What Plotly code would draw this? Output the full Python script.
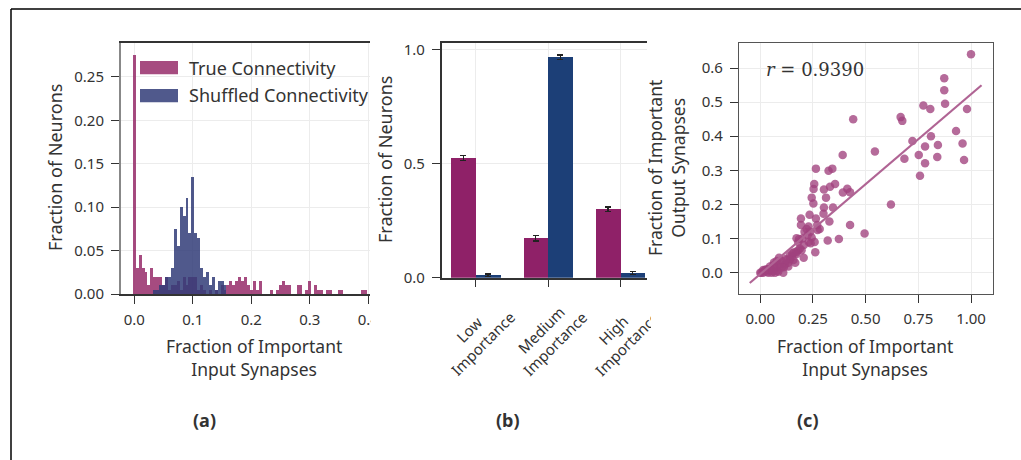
import plotly.graph_objects as go

W, H = 1021, 460
FONT = "Noto Sans"
TXT = "#333333"

# ---------------- data ----------------
bin_width = 0.005
true_frac = [0.275, 0.030, 0.045, 0.030, 0.025, 0.010, 0.030, 0.020, 0.020, 0.020,
             0.010, 0.020, 0.005, 0.010, 0.010, 0.015, 0.005, 0.020, 0.010, 0.020,
             0.020, 0.020, 0.005, 0.010, 0.005, 0.000, 0.005, 0.000, 0.005, 0.000,
             0.010, 0.005, 0.010, 0.015, 0.010, 0.015, 0.020, 0.015, 0.020, 0.010,
             0.005, 0.015, 0.005, 0.015, 0.000, 0.000, 0.000, 0.005, 0.000, 0.005,
             0.010, 0.015, 0.010, 0.010, 0.000, 0.000, 0.010, 0.010, 0.000, 0.005,
             0.015, 0.000, 0.010, 0.005, 0.005, 0.000, 0.005, 0.005, 0.000, 0.000,
             0.005, 0.005, 0.000, 0.000, 0.000, 0.000, 0.000, 0.000, 0.005, 0.005]
shuffled_frac = [0.000, 0.000, 0.000, 0.000, 0.000, 0.000, 0.000, 0.005, 0.005, 0.010,
                 0.010, 0.020, 0.020, 0.030, 0.075, 0.055, 0.100, 0.090, 0.110, 0.070,
                 0.135, 0.070, 0.065, 0.030, 0.020, 0.025, 0.010, 0.020, 0.005, 0.015,
                 0.015, 0.010]
true_bins = [i * bin_width for i in range(len(true_frac))]
shuffled_bins = [i * bin_width for i in range(len(shuffled_frac))]

categories = ["Low<br>Importance", "Medium<br>Importance", "High<br>Importance"]
true_cat = [0.525, 0.173, 0.300]
true_cat_err = [0.010, 0.012, 0.010]
shuf_cat = [0.010, 0.968, 0.020]
shuf_cat_err = [0.006, 0.010, 0.006]

x_in = [1.0, 0.873, 0.873, 0.877, 0.774, 0.807, 0.981, 0.666, 0.674, 0.441,
        0.929, 0.810, 0.722, 0.960, 0.843, 0.782, 0.752, 0.684, 0.840, 0.967,
        0.782, 0.758, 0.544, 0.391, 0.620, 0.495, 0.426, 0.373, 0.320, 0.261,
        0.264, 0.342, 0.324, 0.256, 0.355, 0.331, 0.253, 0.302, 0.413, 0.392,
        0.426, 0.244, 0.312, 0.252, 0.302, 0.345, 0.300, 0.234, 0.193, 0.264,
        0.328, 0.193, 0.229, 0.220, 0.272, 0.282, 0.237, 0.225, 0.244, 0.172,
        0.184, 0.258, 0.239, 0.188, 0.180, 0.196, 0.169, 0.206, 0.152, 0.166,
        0.141, 0.133, 0.117, 0.133, 0.089, 0.078, 0.101, 0.109, 0.062, 0.070,
        0.046, 0.030, 0.014, 0.000, 0.014, 0.038, 0.054, 0.070, 0.085, 0.093,
        0.078, 0.030, 0.022, 0.046, 0.112, 0.157, 0.172, 0.149, 0.125, 0.207,
        0.005, 0.020, 0.040, 0.060, 0.065, 0.090, 0.100, 0.120, 0.140, 0.160,
        0.180, 0.200, 0.210, 0.230, 0.270]
y_out = [0.640, 0.570, 0.535, 0.495, 0.490, 0.480, 0.480, 0.456, 0.445, 0.450,
         0.415, 0.400, 0.386, 0.379, 0.374, 0.370, 0.345, 0.334, 0.339, 0.330,
         0.321, 0.284, 0.355, 0.345, 0.200, 0.115, 0.140, 0.099, 0.094, 0.060,
         0.305, 0.305, 0.299, 0.260, 0.260, 0.252, 0.245, 0.244, 0.246, 0.235,
         0.236, 0.220, 0.220, 0.203, 0.191, 0.191, 0.173, 0.170, 0.159, 0.159,
         0.150, 0.140, 0.135, 0.128, 0.125, 0.128, 0.120, 0.110, 0.103, 0.101,
         0.099, 0.090, 0.086, 0.071, 0.066, 0.066, 0.059, 0.044, 0.057, 0.029,
         0.039, 0.029, 0.024, 0.018, 0.044, 0.034, 0.034, 0.000, 0.022, 0.013,
         0.018, 0.010, 0.008, 0.000, 0.000, 0.000, 0.000, 0.000, 0.003, 0.018,
         0.006, 0.003, 0.008, 0.008, 0.016, 0.037, 0.055, 0.047, 0.037, 0.081,
         0.000, 0.005, 0.010, 0.005, 0.030, 0.025, 0.015, 0.040, 0.050, 0.060,
         0.090, 0.100, 0.120, 0.090, 0.140]
fit_slope = 0.527
fit_intercept = -0.004
fit_x = [-0.05, 1.05]
r_value = 0.9390

# ---------------- style ----------------
PINK_A = "rgba(150,44,106,0.85)"
BLUE_A = "rgba(49,60,120,0.85)"
PINK = "#8f2168"
BLUE = "#1c3f77"
DOT = "rgba(160,65,125,0.78)"
LINE = "#b06494"


def px(x):
    return x / W


def py(y):
    return 1 - y / H


fig = go.Figure()

# panel (a)
fig.add_trace(go.Bar(x=true_bins, y=true_frac, width=bin_width, marker_color=PINK_A,
                     marker_line_width=0, xaxis="x", yaxis="y", showlegend=False))
fig.add_trace(go.Bar(x=shuffled_bins, y=shuffled_frac, width=bin_width, marker_color=BLUE_A,
                     marker_line_width=0, xaxis="x", yaxis="y", showlegend=False))

# panel (b)
bw = 0.34
fig.add_trace(go.Bar(x=categories, y=true_cat, width=bw, offset=-bw, marker_color=PINK,
                     marker_line_width=0,
                     error_y=dict(type="data", array=true_cat_err, color="#222", thickness=1.3, width=3),
                     xaxis="x2", yaxis="y2", showlegend=False))
fig.add_trace(go.Bar(x=categories, y=shuf_cat, width=bw, offset=0, marker_color=BLUE,
                     marker_line_width=0,
                     error_y=dict(type="data", array=shuf_cat_err, color="#222", thickness=1.3, width=3),
                     xaxis="x2", yaxis="y2", showlegend=False))

# panel (c)
fig.add_trace(go.Scatter(x=x_in, y=y_out, mode="markers",
                         marker=dict(size=8.5, color=DOT, line_width=0),
                         xaxis="x3", yaxis="y3", showlegend=False))
fig.add_trace(go.Scatter(x=fit_x, y=[fit_slope * v + fit_intercept for v in fit_x], mode="lines",
                         line=dict(color=LINE, width=2.2),
                         xaxis="x3", yaxis="y3", showlegend=False))

tickfont = dict(family=FONT, size=15, color=TXT)
grid = "#ececec"
common = dict(tickfont=tickfont, gridcolor=grid, gridwidth=1, showgrid=True, zeroline=False,
              ticks="outside", ticklen=8, tickwidth=1.2, tickcolor="#333", automargin=False)

fig.update_layout(
    template="none",
    width=W, height=H, autosize=False,
    margin=dict(l=0, r=0, t=0, b=0, pad=0),
    paper_bgcolor="white", plot_bgcolor="white",
    barmode="overlay", bargap=0,
    font=dict(family=FONT, color=TXT),
    xaxis=dict(domain=[px(121), px(370)], range=[-0.0228, 0.403],
               tickvals=[0, 0.1, 0.2, 0.3, 0.4], tickformat=".1f", ticklabelstandoff=3,
               showline=True, linecolor="#333", linewidth=1.5, mirror=True,
               anchor="y", **common),
    yaxis=dict(domain=[py(294), py(43)], range=[0, 0.289],
               tickvals=[0, 0.05, 0.10, 0.15, 0.20, 0.25], tickformat=".2f", ticklabelstandoff=4,
               showline=True, linecolor="#888", linewidth=2,
               anchor="x", **common),
    xaxis2=dict(domain=[px(441.7), px(646.7)], range=[-0.47, 2.365],
                type="category", showticklabels=False,
                showline=True, linecolor="#333", linewidth=1.5, mirror=True,
                anchor="y2", **common),
    yaxis2=dict(domain=[py(277.7), py(43)], range=[0, 1.03],
                tickvals=[0, 0.5, 1.0], tickformat=".1f", ticklabelstandoff=4,
                showline=True, linecolor="#333", linewidth=1.5,
                anchor="x2", **common),
    xaxis3=dict(domain=[px(739), px(992.7)], range=[-0.101, 1.103],
                tickvals=[0, 0.25, 0.5, 0.75, 1.0], tickformat=".2f", ticklabelstandoff=3,
                showline=True, linecolor="#555", linewidth=1.2, mirror=True,
                anchor="y3", **common),
    yaxis3=dict(domain=[py(294.3), py(43.3)], range=[-0.0634, 0.6724],
                tickvals=[0, 0.1, 0.2, 0.3, 0.4, 0.5, 0.6], tickformat=".1f", ticklabelstandoff=4,
                showline=True, linecolor="#555", linewidth=1.2, mirror=True,
                anchor="x3", **common),
)

shapes = []
# clipping mask (the last tick label of panel (a) is cut at the subplot boundary in the reference)
shapes.append(dict(type="rect", xref="paper", yref="paper", x0=px(370.5), x1=px(386),
                   y0=py(335), y1=py(303), fillcolor="white", line_width=0, layer="above"))
# legend swatches for panel (a)
shapes.append(dict(type="rect", xref="paper", yref="paper", x0=px(140), x1=px(178),
                   y0=py(74.3), y1=py(61), fillcolor="rgb(166,76,128)", line_width=0, layer="above"))
shapes.append(dict(type="rect", xref="paper", yref="paper", x0=px(140), x1=px(178),
                   y0=py(102.3), y1=py(89), fillcolor="rgb(80,89,140)", line_width=0, layer="above"))
# outer frame lines
shapes.append(dict(type="line", xref="paper", yref="paper", x0=px(11), x1=1, y0=py(9), y1=py(9),
                   line=dict(color="black", width=1.5), layer="above"))
shapes.append(dict(type="line", xref="paper", yref="paper", x0=px(11), x1=px(11), y0=py(9), y1=0,
                   line=dict(color="black", width=1.5), layer="above"))
fig.update_layout(shapes=shapes)

ann = []


def add_text(text, x, y, size=18, angle=0, bold=False, family=FONT, xanchor="center",
             xref="paper"):
    ann.append(dict(text=("<b>%s</b>" % text) if bold else text,
                    x=(px(x) if xref == "paper" else x), y=py(y),
                    xref=xref, yref="paper", showarrow=False, textangle=angle,
                    xanchor=xanchor, yanchor="middle", align="center",
                    font=dict(family=family, size=size, color=TXT)))


add_text("True Connectivity", 187, 67.5, xanchor="left")
add_text("Shuffled Connectivity", 187, 95.5, xanchor="left")
add_text("Fraction of Neurons", 55, 168, angle=-90)
add_text("Fraction of Important<br>Input Synapses", 254, 357.5, size=17.5)
add_text("Fraction of Neurons", 385, 160, angle=-90)
add_text("Fraction of Important<br>Output Synapses", 666, 168, size=17.5, angle=-90)
add_text("Fraction of Important<br>Input Synapses", 865, 357.5, size=17.5)
add_text("<i>r</i> = %.4f" % r_value, 815, 69, size=18, family="DejaVu Serif")
# rotated category labels of panel (b), centred under each category
for c in categories:
    add_text(c, c, 337, size=15, angle=-45, xref="x2")
# mask: the last category label is cut at the subplot boundary in the reference
ann.append(dict(text=" ", x=px(651), y=py(292), xref="paper", yref="paper", showarrow=False,
                xanchor="left", yanchor="top", width=16, height=60, bgcolor="white",
                borderpad=0, borderwidth=0))
add_text("(a)", 204, 420, size=18, bold=True)
add_text("(b)", 508, 420, size=18, bold=True)
add_text("(c)", 808, 420, size=18, bold=True)
fig.update_layout(annotations=ann)

fig.write_html("out.html", config={"displayModeBar": False},
               post_script="document.body.style.margin='0';")
